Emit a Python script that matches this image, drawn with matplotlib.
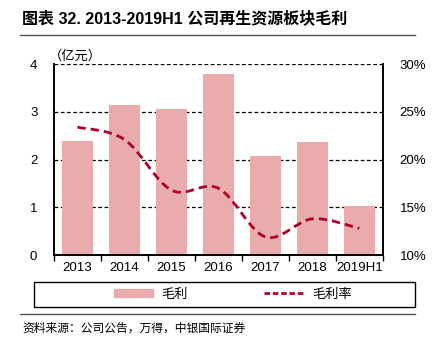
import numpy as np
import matplotlib.pyplot as plt
from matplotlib.path import Path
from matplotlib.patches import PathPatch
from matplotlib.lines import Line2D
from matplotlib.patches import Patch

plt.rcParams['font.family'] = ['Liberation Sans', 'Noto Sans CJK SC', 'DejaVu Sans']

# data
years = ["2013", "2014", "2015", "2016", "2017", "2018", "2019H1"]
gross_profit = [2.39, 3.14, 3.06, 3.79, 2.07, 2.37, 1.02]      # 亿元
gross_margin = [23.4, 22.1, 16.8, 17.0, 11.9, 13.8, 12.8]     # %

bar_color = "#E9ABAB"
line_color = "#B0002A"
cjk = ['Noto Sans CJK SC', 'DejaVu Sans']

fig = plt.figure(figsize=(4.39, 3.41), dpi=100)
ax = fig.add_axes([0.123, 0.252, 0.749, 0.560])
ax2 = ax.twinx()

x = np.arange(len(years))
ax.bar(x, gross_profit, width=0.66, color=bar_color, zorder=2)
ax.set_xlim(-0.5, len(years) - 0.5)
ax.set_ylim(0, 4)
ax.set_yticks([0, 1, 2, 3, 4])
ax.set_xticks(x)
ax.set_xticklabels(years, fontsize=9.5)
ax.set_xticks(np.arange(-0.5, len(years)), minor=True)
ax.tick_params(axis='x', which='major', length=0, pad=5)
ax.tick_params(axis='x', which='minor', length=4, direction='out', width=1)
ax.tick_params(axis='y', length=0, labelsize=9.5, pad=12)
for yv in [1, 2, 3, 4]:
    ax.axhline(yv, color='black', lw=0.9, ls=(0, (3, 2)), zorder=1)

ax2.set_ylim(10, 30)
ax2.set_yticks([10, 15, 20, 25, 30])
ax2.set_yticklabels([f"{v}%" for v in [10, 15, 20, 25, 30]])
ax2.tick_params(axis='y', length=0, labelsize=9.5, pad=12)

# smooth curve through the margin points (Catmull-Rom as cubic beziers)
pts = np.column_stack([x, gross_margin]).astype(float)
verts = [tuple(pts[0])]
codes = [Path.MOVETO]
for i in range(len(pts) - 1):
    p0 = pts[i - 1] if i > 0 else pts[i]
    p1, p2 = pts[i], pts[i + 1]
    p3 = pts[i + 2] if i + 2 < len(pts) else pts[i + 1]
    c1 = p1 + (p2 - p0) / 6
    c2 = p2 - (p3 - p1) / 6
    verts += [tuple(c1), tuple(c2), tuple(p2)]
    codes += [Path.CURVE4] * 3
ax2.add_patch(PathPatch(Path(verts, codes), fill=False, edgecolor=line_color,
                        lw=2, ls=(0, (3, 1.8)), zorder=3))

for a in (ax, ax2):
    a.spines['top'].set_visible(False)
for s in ['left', 'right', 'bottom']:
    ax2.spines[s].set_linewidth(1.2)
    ax.spines[s].set_linewidth(1.2)

fig.text(0.112, 0.826, "（亿元）", fontsize=9.5, family=cjk)

# title and rules
fig.text(0.05, 0.948, "图表 32. 2013-2019H1 公司再生资源板块毛利", fontsize=11.5,
         fontweight='bold', family=['Liberation Sans', 'Noto Sans CJK SC'], va='center')
fig.add_artist(Line2D([0.046, 0.945], [0.898, 0.898], color='#555555', lw=1))
fig.add_artist(Line2D([0.046, 0.945], [0.078, 0.078], color='#555555', lw=1))

# legend box
fig.add_artist(plt.Rectangle((0.077, 0.1), 0.868, 0.073, fill=False,
                             edgecolor='black', lw=1, transform=fig.transFigure))
handles = [Patch(color=bar_color, label="毛利"),
           Line2D([0], [0], color=line_color, lw=2, ls=(0, (2, 1)), label="毛利率")]
fig.legend(handles=handles, loc='center', bbox_to_anchor=(0.53, 0.137), ncol=2,
           frameon=False, prop={'family': cjk, 'size': 9.5}, handlelength=3.0,
           handleheight=0.6, columnspacing=5.8, handletextpad=0.6)

fig.text(0.05, 0.038, "资料来源：公司公告，万得，中银国际证券", fontsize=8.5,
         family=cjk, style='italic', va='center')

fig.savefig("out.png", dpi=100)
